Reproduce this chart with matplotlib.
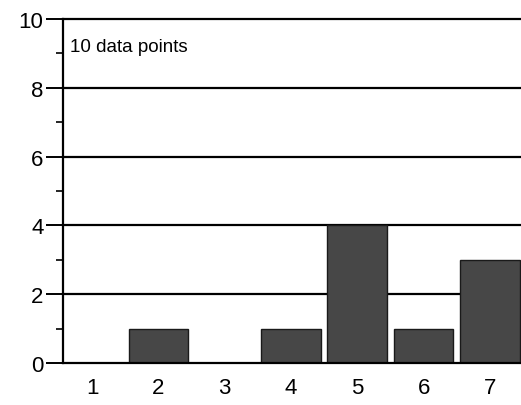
import matplotlib.pyplot as plt
import numpy as np

plt.rcParams['font.family'] = ['Liberation Sans', 'DejaVu Sans']

# histogram counts per bin
bins = [1, 2, 3, 4, 5, 6, 7]
counts = [0, 1, 0, 1, 4, 1, 3]
note = "10 data points"

fig = plt.figure(figsize=(5.21, 4.06), dpi=100)
ax = fig.add_axes([63 / 521, 42 / 406, 1 - 63 / 521, 344 / 406])

# horizontal rules behind the bars
for yv in [2, 4, 6, 8, 10]:
    ax.axhline(yv, color='black', lw=1.6, zorder=1, clip_on=False)

ax.bar(bins, counts, width=0.9, color='#474747', edgecolor='#1a1a1a',
       linewidth=1.0, zorder=2)

ax.set_xlim(0.56, 7.47)
ax.set_ylim(0, 10)
ax.set_xticks(bins)
ax.set_yticks([0, 2, 4, 6, 8, 10])
ax.set_yticks([1, 3, 5, 7, 9], minor=True)
ax.tick_params(axis='x', length=0, labelsize=16, pad=10)
ax.tick_params(axis='y', which='major', length=12, width=1.4, labelsize=16, pad=2)
ax.tick_params(axis='y', which='minor', length=5, width=1.2)

for side in ['top', 'right']:
    ax.spines[side].set_visible(False)
ax.spines['left'].set_linewidth(1.6)
ax.spines['bottom'].set_linewidth(1.6)
ax.spines['left'].set_zorder(3)

ax.text(0.66, 9.2, note, fontsize=13.5, va='center', ha='left')

fig.savefig('out.png', dpi=100)
